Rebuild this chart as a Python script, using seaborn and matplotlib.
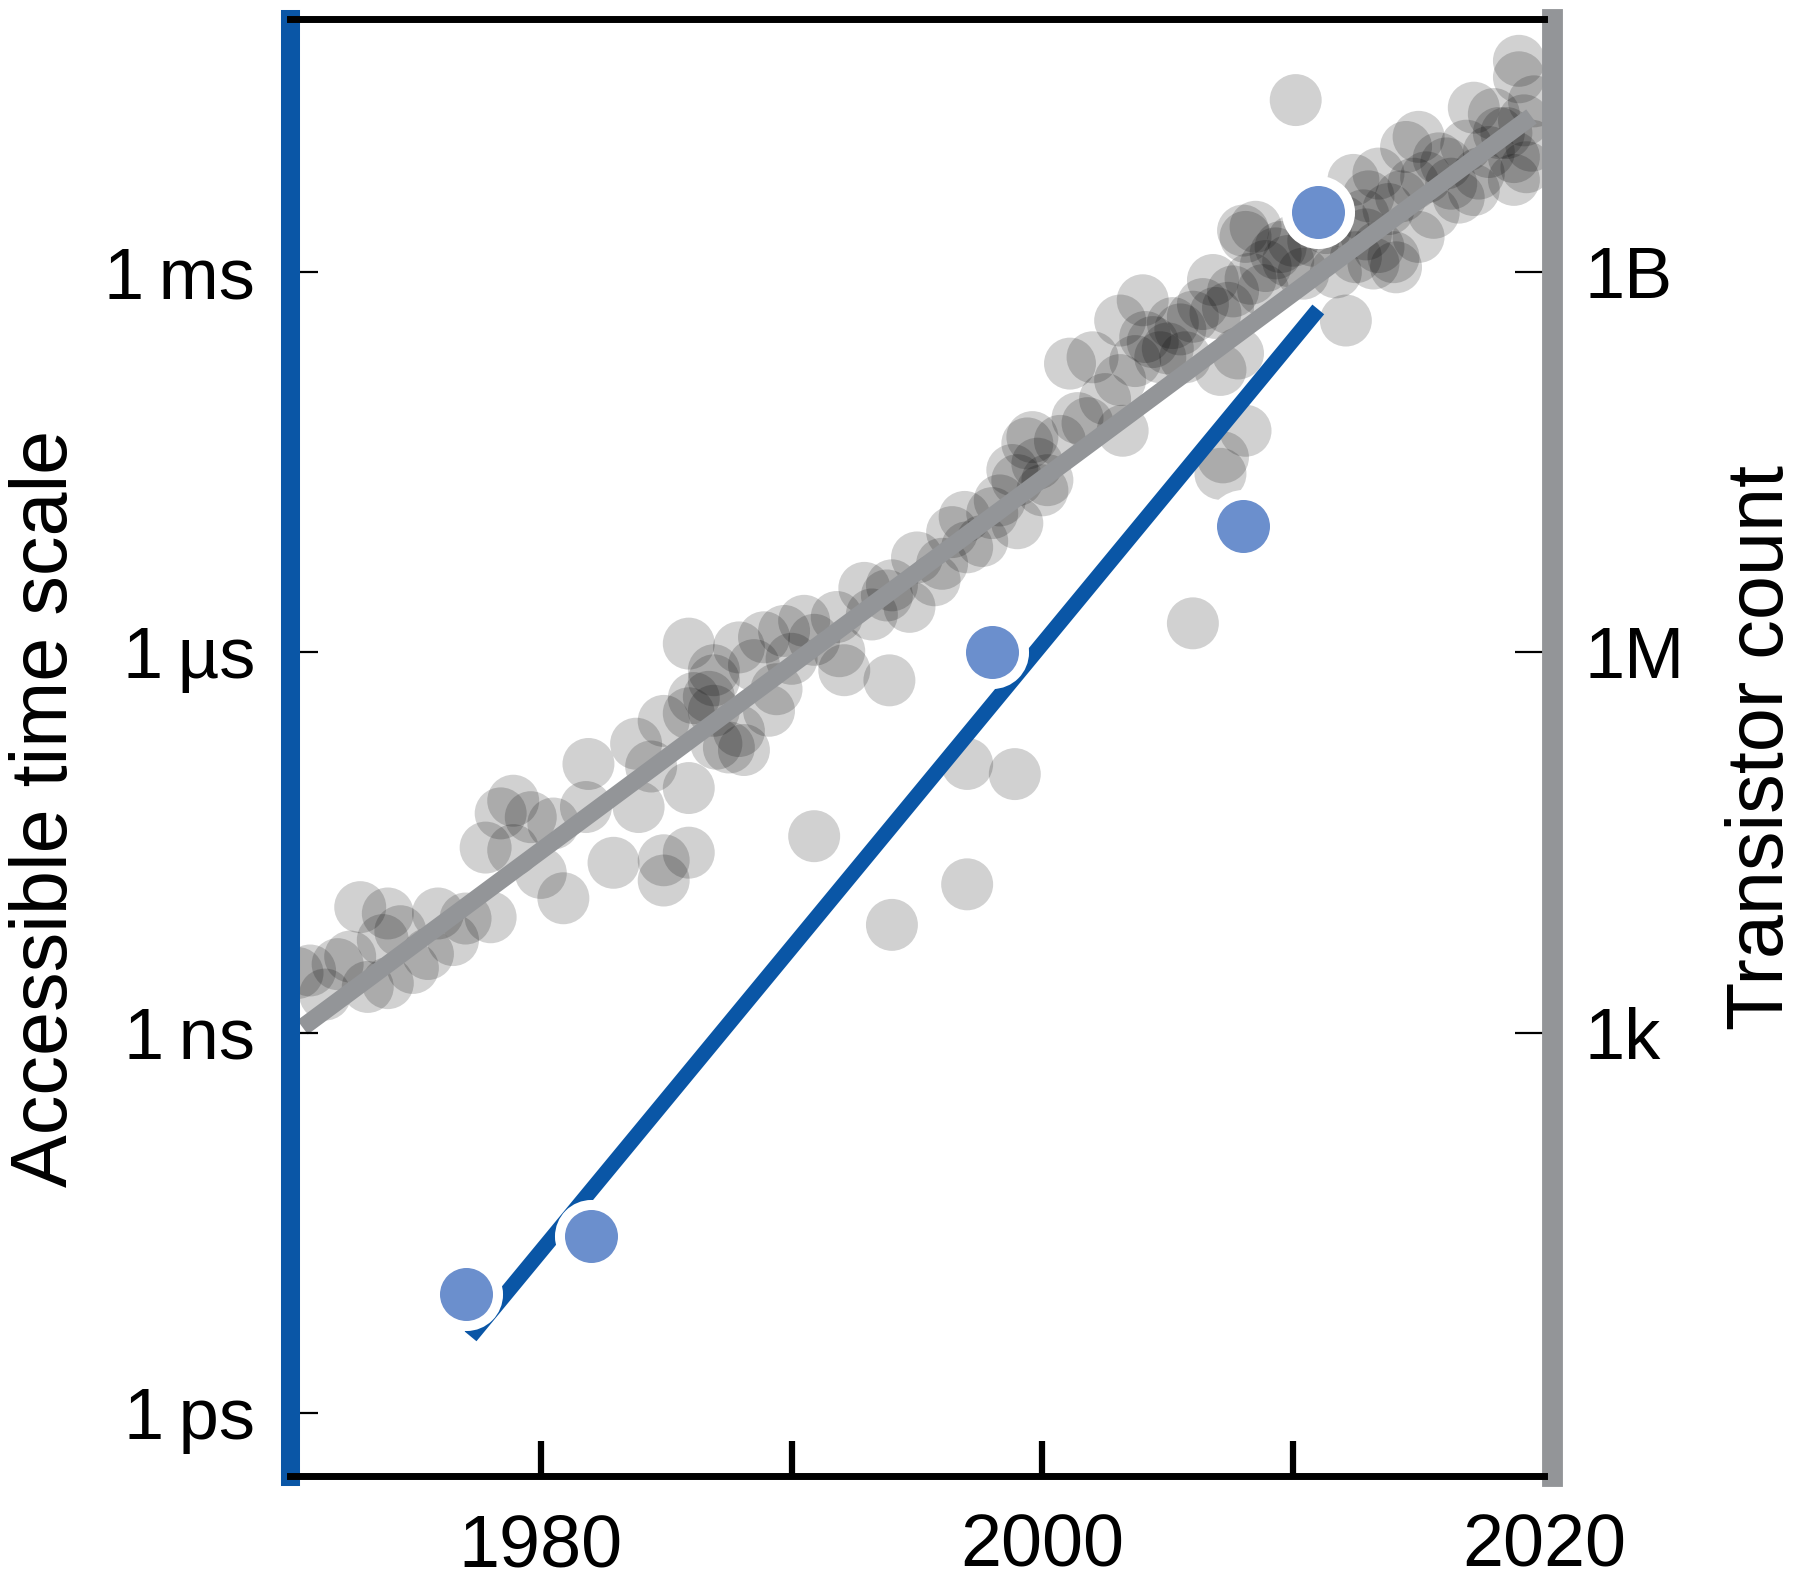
import numpy as np
import matplotlib
matplotlib.use('Agg')
import matplotlib.pyplot as plt
from matplotlib.ticker import NullLocator
import seaborn as sns

# --- datos ---
# procesadores: año y log10(numero de transistores)
chip_years = [
    1970.3, 1970.8, 1971.4, 1971.9, 1972.4, 1972.8, 1973.1, 1973.7, 1973.9, 1973.9,
    1974.4, 1974.9, 1975.5, 1975.9, 1976.5, 1977.0, 1977.8, 1978.0, 1978.4, 1978.9,
    1978.9, 1979.6, 1980.0, 1980.5, 1980.9, 1981.8, 1981.9, 1982.9, 1983.8, 1983.9,
    1984.4, 1984.9, 1984.9, 1984.9, 1985.9, 1985.9, 1985.9, 1985.9, 1986.1, 1986.7,
    1986.9, 1986.9, 1986.9, 1987.0, 1987.5, 1987.9, 1987.9, 1988.1, 1988.5, 1988.9,
    1989.1, 1989.4, 1989.7, 1990.0, 1990.5, 1990.9, 1990.9, 1991.8, 1991.9, 1992.1,
    1992.9, 1993.2, 1993.8, 1993.9, 1994.0, 1994.0, 1994.7, 1995.0, 1995.7, 1996.0,
    1996.4, 1996.9, 1997.0, 1997.0, 1997.0, 1997.6, 1998.0, 1998.3, 1998.8, 1998.9,
    1999.0, 1999.0, 1999.4, 1999.6, 1999.8, 2000.0, 2000.2, 2000.7, 2001.1, 2001.4,
    2001.8, 2002.0, 2002.5, 2003.1, 2003.1, 2003.2, 2003.7, 2004.0, 2004.1, 2004.4,
    2004.7, 2005.0, 2005.2, 2005.5, 2005.7, 2006.0, 2006.0, 2006.4, 2006.8, 2006.9,
    2007.1, 2007.1, 2007.2, 2007.4, 2007.6, 2007.8, 2008.0, 2008.1, 2008.1, 2008.3,
    2008.5, 2008.8, 2008.9, 2009.3, 2009.5, 2009.8, 2010.0, 2010.1, 2010.4, 2010.8,
    2011.3, 2011.7, 2012.0, 2012.1, 2012.4, 2012.5, 2012.8, 2012.9, 2013.0, 2013.2,
    2013.4, 2013.4, 2013.8, 2014.0, 2014.1, 2014.3, 2014.5, 2014.8, 2015.0, 2015.0,
    2015.3, 2015.6, 2015.8, 2016.1, 2016.3, 2016.6, 2016.9, 2017.2, 2017.2, 2017.4,
    2017.8, 2018.0, 2018.2, 2018.5, 2018.8, 2018.8, 2019.0, 2019.0, 2019.2, 2019.3,
    2019.5, 2019.6,
]
chip_log_count = [
    3.47, 3.49, 3.30, 3.54, 3.60, 3.99, 3.36, 3.73, 3.94, 3.39,
    3.80, 3.51, 3.62, 3.94, 3.73, 3.90, 4.46, 3.91, 4.73, 4.83,
    4.44, 4.70, 4.26, 4.65, 4.06, 4.78, 5.12, 4.34, 5.28, 4.78,
    5.10, 5.46, 4.20, 4.36, 6.07, 4.93, 4.42, 5.52, 5.64, 5.65,
    5.78, 5.86, 5.54, 5.28, 5.25, 6.04, 5.38, 5.23, 5.90, 6.12,
    5.54, 5.71, 6.17, 5.95, 6.25, 6.10, 4.55, 6.28, 6.01, 5.86,
    6.51, 6.30, 6.45, 5.78, 3.85, 6.53, 6.36, 6.75, 6.57, 6.70,
    6.95, 7.07, 6.83, 5.12, 4.17, 6.88, 7.10, 7.20, 7.44, 5.04,
    7.36, 7.02, 7.65, 7.70, 7.49, 7.28, 7.36, 7.67, 8.28, 7.85,
    7.81, 8.33, 8.00, 8.62, 8.15, 7.75, 8.30, 8.78, 8.49, 8.45,
    8.33, 8.40, 8.60, 8.55, 8.33, 6.23, 8.65, 8.75, 8.94, 8.68,
    8.23, 7.41, 7.54, 8.72, 8.85, 8.36, 9.33, 9.28, 7.75, 8.95,
    9.36, 8.86, 9.05, 9.15, 9.20, 9.09, 9.25, 10.36, 8.99, 9.25,
    9.35, 9.00, 9.40, 8.62, 9.73, 9.12, 9.45, 9.30, 9.60, 9.07,
    9.78, 9.20, 9.50, 9.12, 9.04, 9.60, 9.99, 9.70, 10.07, 9.28,
    9.75, 9.47, 9.90, 9.86, 9.70, 9.59, 10.00, 10.30, 9.65, 9.78,
    9.95, 10.25, 10.10, 10.10, 9.91, 9.73, 10.67, 10.54, 10.20, 9.83,
    10.00, 10.35,
]

# tendencia de transistores (linea gris)
moore_years = [1970.5, 2019.5]
moore_counts = [1.1e3, 1.7e10]

# escala de tiempo accesible (puntos azules) y su ajuste
sim_years = [1977.0, 1982.0, 1998.0, 2008.0, 2011.0]
sim_seconds = [8.7e-12, 2.5e-11, 1.0e-6, 1.0e-5, 3.0e-3]
fit_years = [1977.2, 2011.0]
fit_seconds = [4.0e-12, 5.1e-4]

time_ticks = [1e-12, 1e-9, 1e-6, 1e-3]
time_labels = ['1\u2009ps', '1\u2009ns', '1\u2009\u00b5s', '1\u2009ms']
count_ticks = [1e3, 1e6, 1e9]
count_labels = ['1k', '1M', '1B']
year_ticks = [1980, 1990, 2000, 2010, 2020]
year_labels = ['1980', '', '2000', '', '2020']

BLUE = '#0A56A6'
BLUE_PT = '#6B8FCD'
GRAY = '#939598'

sns.set_style('white')
plt.rcParams['font.family'] = ['Liberation Sans', 'DejaVu Sans']
plt.rcParams['text.color'] = 'black'
plt.rcParams['axes.labelcolor'] = 'black'
plt.rcParams['xtick.color'] = 'black'
plt.rcParams['ytick.color'] = 'black'

fig = plt.figure(figsize=(18, 15.81), dpi=100)
W, H = 1800, 1581
ax = fig.add_axes([290 / W, 1 - 1476 / H, (1544 - 290) / W, (1476 - 19) / H])
ax2 = ax.twinx()

ax.set_yscale('log')
ax2.set_yscale('log')
ax.set_xlim(1970, 2020)
ax.set_ylim(10 ** -12.5, 10 ** -1)
ax2.set_ylim(10 ** -0.5, 10 ** 11)

# transistores en el eje derecho (debajo)
sns.scatterplot(x=chip_years, y=10.0 ** np.array(chip_log_count), ax=ax2,
                color='black', alpha=0.18, s=1400, edgecolor='none', linewidth=0)
sns.lineplot(x=moore_years, y=moore_counts, ax=ax2, color=GRAY, linewidth=12.7,
             solid_capstyle='butt')

# escala de tiempo en el eje izquierdo (encima)
ax.set_zorder(ax2.get_zorder() + 1)
ax.patch.set_visible(False)
sns.lineplot(x=fit_years, y=fit_seconds, ax=ax, color=BLUE, linewidth=11,
             solid_capstyle='butt')
sns.scatterplot(x=sim_years, y=sim_seconds, ax=ax, color=BLUE_PT, s=2060,
                edgecolor='white', linewidth=7.2, zorder=5)

# ejes
ax.set_xticks(year_ticks)
ax.set_xticklabels(year_labels)
ax.set_yticks(time_ticks)
ax.set_yticklabels(time_labels)
ax.yaxis.set_minor_locator(NullLocator())
ax2.set_yticks(count_ticks)
ax2.set_yticklabels(count_labels)
ax2.yaxis.set_minor_locator(NullLocator())

ax.tick_params(axis='x', bottom=True, direction='in', length=25, width=4.5, pad=26,
               labelsize=53, color='black', labelcolor='black')
ax.tick_params(axis='y', left=True, direction='in', length=20, width=1.6, pad=25,
               labelsize=52, color='black', labelcolor='black')
ax2.tick_params(axis='y', right=True, direction='in', length=27, width=1.6, pad=23,
                labelsize=52, color='black', labelcolor='black')
# la marca de 2020 queda bajo el eje gris
ax.xaxis.get_major_ticks()[-1].tick1line.set_visible(False)

for s in ['top', 'bottom']:
    ax.spines[s].set_color('black')
    ax.spines[s].set_linewidth(5)
ax.spines['left'].set_color(BLUE)
ax.spines['left'].set_linewidth(13.7)
ax.spines['right'].set_visible(False)
for s in ['top', 'bottom', 'left']:
    ax2.spines[s].set_visible(False)
ax2.spines['right'].set_color(GRAY)
ax2.spines['right'].set_linewidth(15)
ax2.spines['right'].set_position(('outward', 6))

ax.set_xlabel('')
ax.set_ylabel('Accessible time scale', fontsize=57, labelpad=15, color='black')
ax.yaxis.label.set_y(0.458)
ax2.set_ylabel('Transistor count', fontsize=57, labelpad=29, color='black')

fig.savefig('out.png', dpi=100, facecolor='white')
